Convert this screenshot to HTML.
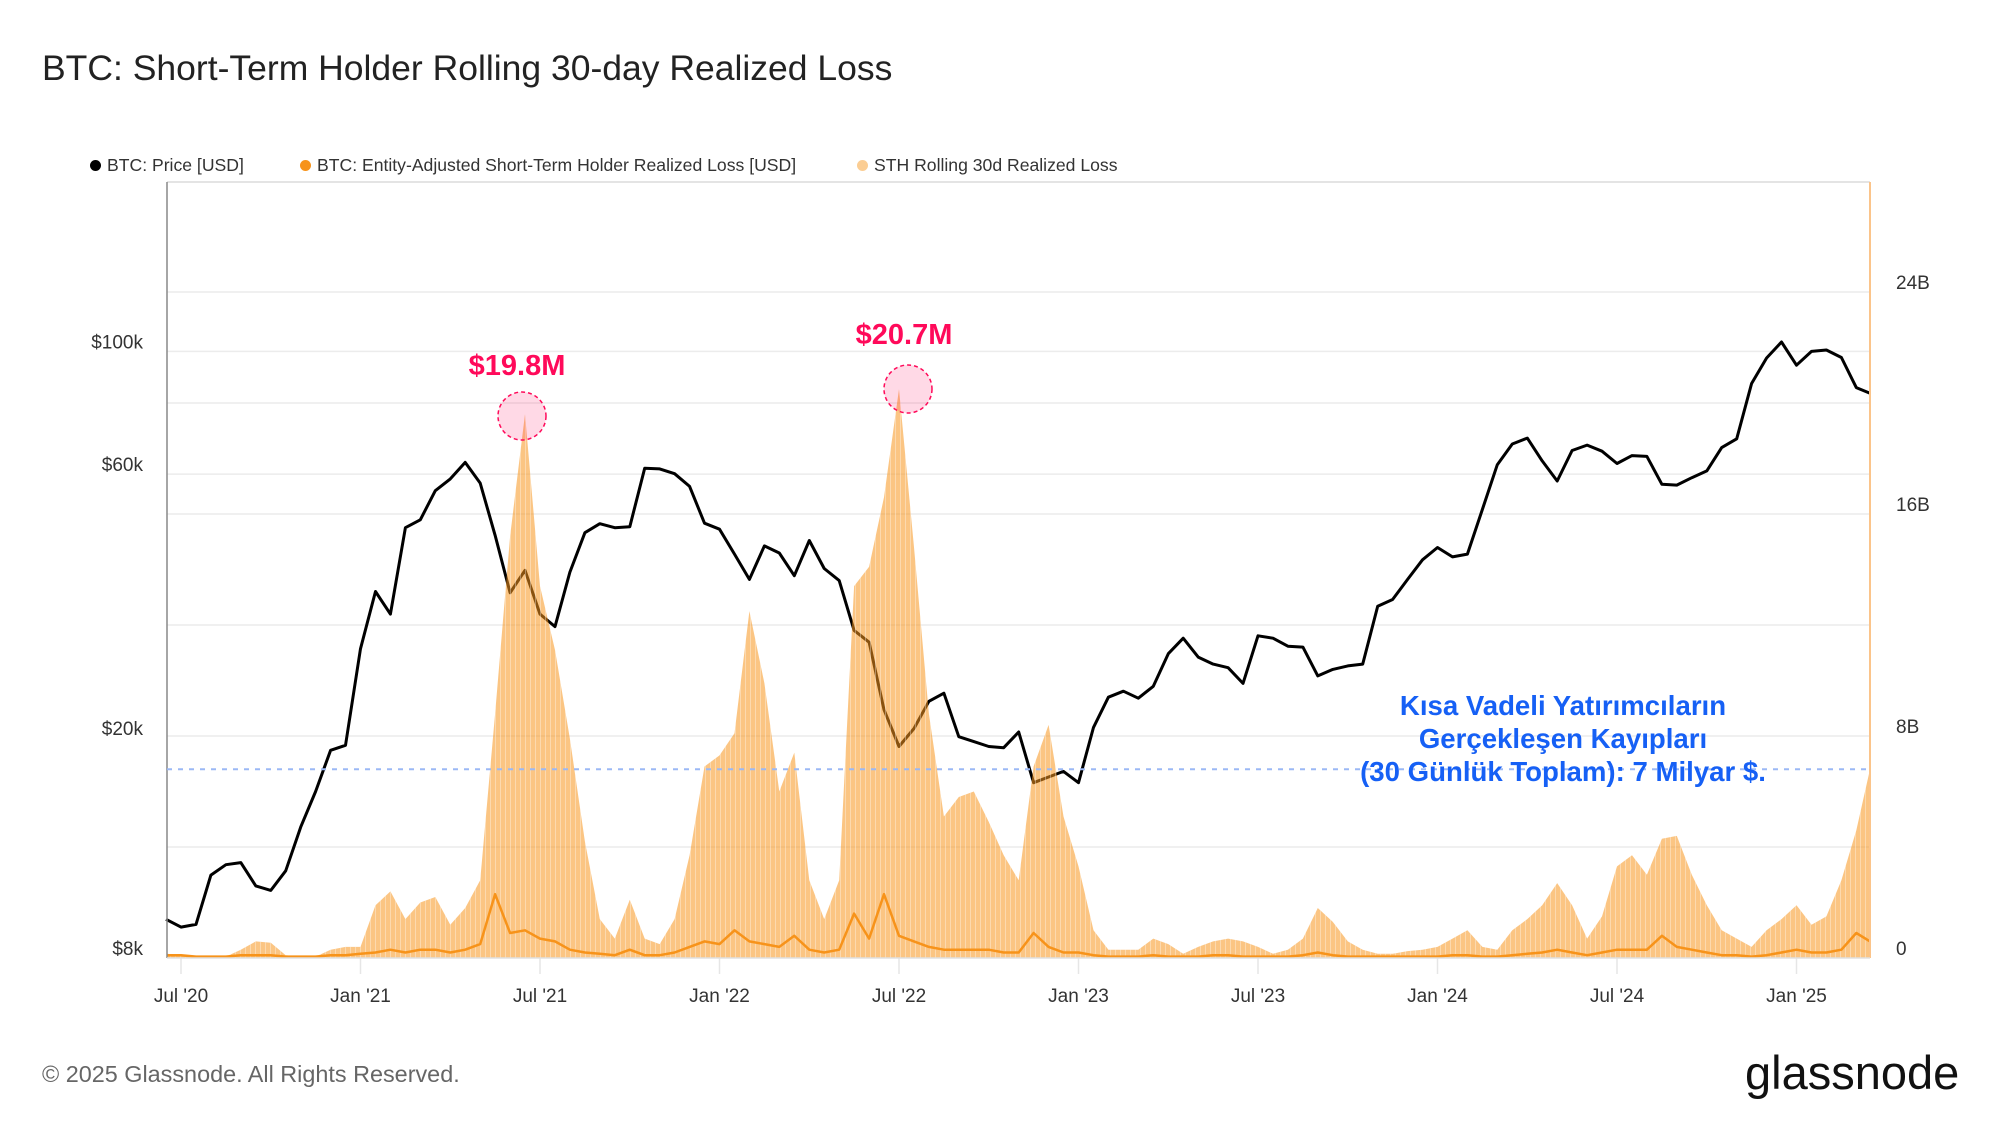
<!DOCTYPE html>
<html><head><meta charset="utf-8">
<style>
html,body{margin:0;padding:0;background:#fff;}
body{width:2000px;height:1125px;position:relative;overflow:hidden;font-family:"Liberation Sans",sans-serif;}
.abs{position:absolute;white-space:nowrap;}
</style></head>
<body>
<div class="abs" style="left:42px;top:48px;font-size:35.5px;color:#222;">BTC: Short-Term Holder Rolling 30-day Realized Loss</div>
<div class="abs" style="left:90px;top:155px;font-size:17.6px;color:#333;">
 <span style="position:absolute;left:0;top:0;"><span style="display:inline-block;width:11px;height:11px;border-radius:50%;background:#000;margin-right:6px;"></span>BTC: Price [USD]</span>
 <span style="position:absolute;left:210px;top:0;"><span style="display:inline-block;width:11px;height:11px;border-radius:50%;background:#f7931a;margin-right:6px;"></span>BTC: Entity-Adjusted Short-Term Holder Realized Loss [USD]</span>
 <span style="position:absolute;left:767px;top:0;"><span style="display:inline-block;width:11px;height:11px;border-radius:50%;background:#fbcd93;margin-right:6px;"></span>STH Rolling 30d Realized Loss</span>
</div>
<svg id="chart" width="2000" height="1125" style="position:absolute;left:0;top:0;" xmlns="http://www.w3.org/2000/svg">
<defs><pattern id="stripes" width="5" height="10" patternUnits="userSpaceOnUse"><rect x="0" y="0" width="1" height="10" fill="rgba(255,255,255,0.35)"/></pattern></defs>
</svg>
<div class="abs" style="left:42px;top:1061px;font-size:23.4px;color:#666;">© 2025 Glassnode. All Rights Reserved.</div>
<div class="abs" style="left:1745px;top:1045px;font-size:47px;color:#111;">glassnode</div>
<script>
// semi-monthly samples starting Jun 15 2020
const dates = (function(){const d=[];let y=2020,m=5,h=1;for(let i=0;i<115;i++){d.push([y,m,h]);h++;if(h>1){h=0;m++;if(m>11){m=0;y++;}}}return d;})();
const priceK = [9.4,9.1,9.2,11.3,11.8,11.9,10.8,10.6,11.5,13.8,16.0,19.0,19.4,
29.0,36.8,33.5,48.0,49.6,56.0,58.8,63.0,57.8,46.5,36.6,40.2,33.5,31.8,39.9,47.0,48.8,48.0,48.2,61.5,61.3,60.1,57.0,48.9,
47.7,43.0,38.7,44.5,43.2,39.3,45.5,40.5,38.5,31.3,29.8,22.5,19.3,20.8,23.3,24.1,20.1,19.7,19.3,19.2,20.5,16.6,17.0,17.4,
16.6,20.9,23.7,24.3,23.6,24.8,28.4,30.3,28.0,27.2,26.8,25.1,30.6,30.3,29.3,29.2,25.9,26.6,27.0,27.2,34.6,35.6,38.7,42.0,
44.2,42.5,43.0,51.8,62.4,68.0,69.7,63.4,58.3,66.2,67.7,66.0,62.7,64.8,64.6,57.5,57.3,59.1,60.8,67.0,69.5,87.5,97.3,104.0,
94.4,100.0,100.6,97.5,86.0,84.0];
const rollingLossB = [0.15,0.1,0.05,0.05,0.05,0.3,0.6,0.55,0.1,0.05,0.05,0.3,0.4,
0.4,1.9,2.4,1.4,2.0,2.2,1.2,1.8,2.8,8.8,15.2,19.6,13.4,11.1,7.9,4.2,1.4,0.7,2.1,0.7,0.5,1.4,3.7,6.9,
7.3,8.1,12.5,9.9,6.0,7.4,2.8,1.4,2.8,13.4,14.1,16.6,20.5,14.8,8.8,5.1,5.8,6.0,4.9,3.7,2.8,6.9,8.4,5.1,
3.3,1.0,0.3,0.3,0.3,0.7,0.5,0.15,0.4,0.6,0.7,0.6,0.4,0.15,0.3,0.7,1.8,1.3,0.6,0.3,0.15,0.15,0.25,0.3,
0.4,0.7,1.0,0.4,0.3,1.0,1.4,1.9,2.7,1.9,0.7,1.5,3.3,3.7,3.0,4.3,4.4,3.0,1.9,1.0,0.7,0.4,1.0,1.4,
1.9,1.2,1.5,2.8,4.6,6.8];
const dailyLossB = [0.1,0.1,0.05,0.05,0.05,0.1,0.1,0.1,0.05,0.05,0.05,0.1,0.1,
0.15,0.2,0.3,0.2,0.3,0.3,0.2,0.3,0.5,2.3,0.9,1.0,0.7,0.6,0.3,0.2,0.15,0.1,0.3,0.1,0.1,0.2,0.4,0.6,
0.5,1.0,0.6,0.5,0.4,0.8,0.3,0.2,0.3,1.6,0.7,2.3,0.8,0.6,0.4,0.3,0.3,0.3,0.3,0.2,0.2,0.9,0.4,0.2,
0.2,0.1,0.05,0.05,0.05,0.1,0.05,0.05,0.05,0.1,0.1,0.05,0.05,0.05,0.05,0.1,0.2,0.1,0.05,0.05,0.05,0.05,0.05,0.05,
0.05,0.1,0.1,0.05,0.05,0.1,0.15,0.2,0.3,0.2,0.1,0.2,0.3,0.3,0.3,0.8,0.4,0.3,0.2,0.1,0.1,0.05,0.1,0.2,
0.3,0.2,0.2,0.3,0.9,0.6];
const xTickLabels = ["Jul '20","Jan '21","Jul '21","Jan '22","Jul '22","Jan '23","Jul '23","Jan '24","Jul '24","Jan '25"];
const leftTickLabels = ["$8k","$20k","$60k","$100k"];
const leftTickValues = [8,20,60,100];
const rightTickLabels = ["0","8B","16B","24B"];
const rightTickValues = [0,8,16,24];

const PL=167,PR=1870,PT=182,PB=958;
function tYear(d){return d[0]+(d[1]+d[2]*0.5)/12;}
function xScale(yr){return 181+(yr-2020.5)*359;}
function yPrice(k){return PB-553*Math.log10(k/8);}
function yRight(v){return PB-27.75*v;}
const svg=document.getElementById('chart');
const NS="http://www.w3.org/2000/svg";
function mk(tag,attrs){const e=document.createElementNS(NS,tag);for(const k in attrs)e.setAttribute(k,attrs[k]);svg.appendChild(e);return e;}

[4,8,12,16,20,24].forEach(v=>{const g=mk('line',{x1:PL,x2:PR,y1:yRight(v),y2:yRight(v),stroke:'#ececec','stroke-width':1.5});

});
[60,100].forEach(v=>{const g=mk('line',{x1:PL,x2:PR,y1:yPrice(v),y2:yPrice(v),stroke:'#ececec','stroke-width':1.5});

});
const topBorder=mk('line',{x1:PL,x2:PR,y1:PT,y2:PT,stroke:'#e4e4e4','stroke-width':2});



xTickLabels.forEach((lab,i)=>{const x=xScale(2020.5+i*0.5);
const tl=mk('line',{x1:x,x2:x,y1:PB,y2:PB+16,stroke:'#e6e6e6','stroke-width':1.5});


const t=mk('text',{x:x,y:PB+44,'text-anchor':'middle','font-size':19,fill:'#333','font-family':'Liberation Sans, sans-serif'});
t.textContent=lab;

});
leftTickLabels.forEach((lab,i)=>{const t=mk('text',{x:143,y:yPrice(leftTickValues[i])-3,'text-anchor':'end','font-size':19,fill:'#333','font-family':'Liberation Sans, sans-serif'});
t.textContent=lab;

});
rightTickLabels.forEach((lab,i)=>{const t=mk('text',{x:1896,y:yRight(rightTickValues[i])-3,'text-anchor':'start','font-size':19,fill:'#333','font-family':'Liberation Sans, sans-serif'});
t.textContent=lab;

});

let pd='';priceK.forEach((p,i)=>{const x=Math.min(PR,xScale(tYear(dates[i])));pd+=(i?'L':'M')+x.toFixed(1)+','+yPrice(p).toFixed(1);});
const pl=mk('path',{d:pd,fill:'none',stroke:'#000','stroke-width':3,'stroke-linejoin':'round'});



// rolling loss as area (bars merged)
let ad='M'+PL+','+PB;
rollingLossB.forEach((v,i)=>{const x=Math.min(PR,Math.max(PL,xScale(tYear(dates[i]))));ad+='L'+x.toFixed(1)+','+yRight(v).toFixed(1);});
ad+='L'+PR+','+PB+'Z';
const ar=mk('path',{d:ad,fill:'rgba(247,150,30,0.55)'});


const ar2=mk('path',{d:ad,fill:'url(#stripes)'});



let ld='';dailyLossB.forEach((v,i)=>{const x=Math.min(PR,Math.max(PL,xScale(tYear(dates[i]))));ld+=(i?'L':'M')+x.toFixed(1)+','+yRight(v).toFixed(1);});
const ll=mk('path',{d:ld,fill:'none',stroke:'#f7931a','stroke-width':2.5,'stroke-linejoin':'round'});



const ax=mk('line',{x1:PL,x2:PL,y1:PT,y2:PB,stroke:'#888','stroke-width':1.5});


const rx=mk('line',{x1:PR,x2:PR,y1:PT,y2:PB,stroke:'#fbc48a','stroke-width':2});


const bx=mk('line',{x1:PL,x2:PR,y1:PB,y2:PB,stroke:'#e0e0e0','stroke-width':1.5});



const dl=mk('line',{x1:PL,x2:PR,y1:yRight(6.8),y2:yRight(6.8),stroke:'#9bb8f5','stroke-width':2,'stroke-dasharray':'5,6'});



[[522,416,'$19.8M',517,375],[908,389,'$20.7M',904,344]].forEach(a=>{
const c=mk('circle',{cx:a[0],cy:a[1],r:24,fill:'rgba(255,0,90,0.15)',stroke:'#ff0a5a','stroke-width':1.5,'stroke-dasharray':'4,3'});


const t=mk('text',{x:a[3],y:a[4],'text-anchor':'middle','font-size':29,'font-weight':'bold',fill:'#ff0a5a','font-family':'Liberation Sans, sans-serif'});
t.textContent=a[2];

});
['Kısa Vadeli Yatırımcıların','Gerçekleşen Kayıpları','(30 Günlük Toplam): 7 Milyar $.'].forEach((s,i)=>{
const t=mk('text',{x:1563,y:715+i*33,'text-anchor':'middle','font-size':27.6,'font-weight':'bold',fill:'#1660f5','font-family':'Liberation Sans, sans-serif'});
t.textContent=s;

});
</script>
</body></html>
